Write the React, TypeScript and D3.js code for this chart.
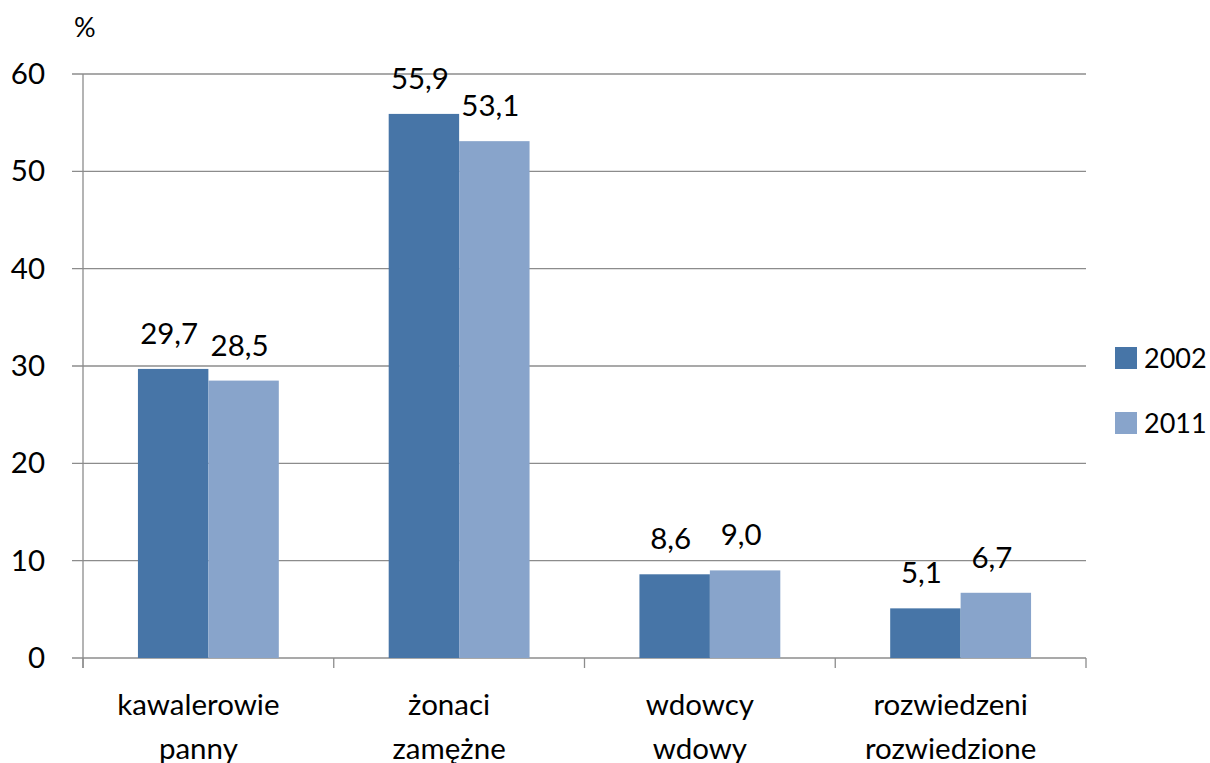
import React from 'react';
import { scaleLinear, scaleBand } from 'd3';

const categories = [['kawalerowie', 'panny'], ['żonaci', 'zamężne'], ['wdowcy', 'wdowy'], ['rozwiedzeni', 'rozwiedzione']];
const years = ['2002', '2011'];
const values2002 = [29.7, 55.9, 8.6, 5.1];
const values2011 = [28.5, 53.1, 9.0, 6.7];
const yTicks = [0, 10, 20, 30, 40, 50, 60];
const colors = ['#4775a7', '#88a4cb'];

const App = () => {
    let svgWidth = 1210;
    let svgHeight = 763;
    let margin = { top: 74, right: 124, bottom: 105, left: 83 };
    let font = 'Lato, Carlito, sans-serif';
    let fs = 29.5;

    let x = scaleBand<number>().domain([0, 1, 2, 3]).range([margin.left, svgWidth - margin.right]);
    let inner = scaleBand<number>().domain([0, 1]).range([0, x.bandwidth()]).paddingOuter(0.78).paddingInner(0);
    let y = scaleLinear().domain([0, 60]).range([svgHeight - margin.bottom, margin.top]);
    let series = [values2002, values2011];
    let fmt = (v: number) => v.toFixed(1).replace('.', ',');

    return (
        <div style={{ position: 'absolute', left: 0, top: 0 }}>
            <svg width={svgWidth} height={svgHeight} style={{ display: 'block', fontFamily: font }}>
                <rect width={svgWidth} height={svgHeight} fill='#ffffff' />
                {yTicks.map(t => (
                    <g key={t}>
                        <line x1={margin.left - 11} x2={svgWidth - margin.right} y1={y(t)} y2={y(t)} stroke='#8c8c8c' strokeWidth={1.3} />
                        <text x={45} y={y(t) + 10} textAnchor='end' fontSize={fs} fill='#000'>{t}</text>
                    </g>
                ))}
                <line x1={margin.left} x2={margin.left} y1={y(60)} y2={y(0) + 10} stroke='#8c8c8c' strokeWidth={1.3} />
                {[0, 1, 2, 3, 4].map(i => {
                    let xx = i < 4 ? x(i) : x(3) + x.bandwidth();
                    return <line key={i} x1={xx} x2={xx} y1={y(0)} y2={y(0) + 10} stroke='#8c8c8c' strokeWidth={1.3} />;
                })}
                <text x={74} y={37} fontSize={27} fill='#000'>%</text>
                {series.map((vals, s) => vals.map((v, i) => (
                    <rect key={s + '-' + i} x={x(i) + inner(s)} width={inner.bandwidth()} y={y(v)} height={y(0) - y(v)} fill={colors[s]} />
                )))}
                {series.map((vals, s) => vals.map((v, i) => (
                    <text key={'l' + s + '-' + i} x={x(i) + inner(s) + inner.bandwidth() / 2 - 4} y={y(v) - 25} textAnchor='middle' fontSize={fs} fill='#000'>{fmt(v)}</text>
                )))}
                {categories.map((c, i) => (
                    <text key={'c' + i} x={x(i) + x.bandwidth() / 2 - 10} y={715} textAnchor='middle' fontSize={fs} fill='#000'>
                        <tspan x={x(i) + x.bandwidth() / 2 - 10}>{c[0]}</tspan>
                        <tspan x={x(i) + x.bandwidth() / 2 - 10} dy={44}>{c[1]}</tspan>
                    </text>
                ))}
                {years.map((yr, s) => (
                    <g key={yr} transform={`translate(1115, ${347 + s * 65})`}>
                        <rect width={22} height={22} fill={colors[s]} />
                        <text x={29} y={21} fontSize={27} fill='#000'>{yr}</text>
                    </g>
                ))}
            </svg>
        </div>
    );
}

export default App;
